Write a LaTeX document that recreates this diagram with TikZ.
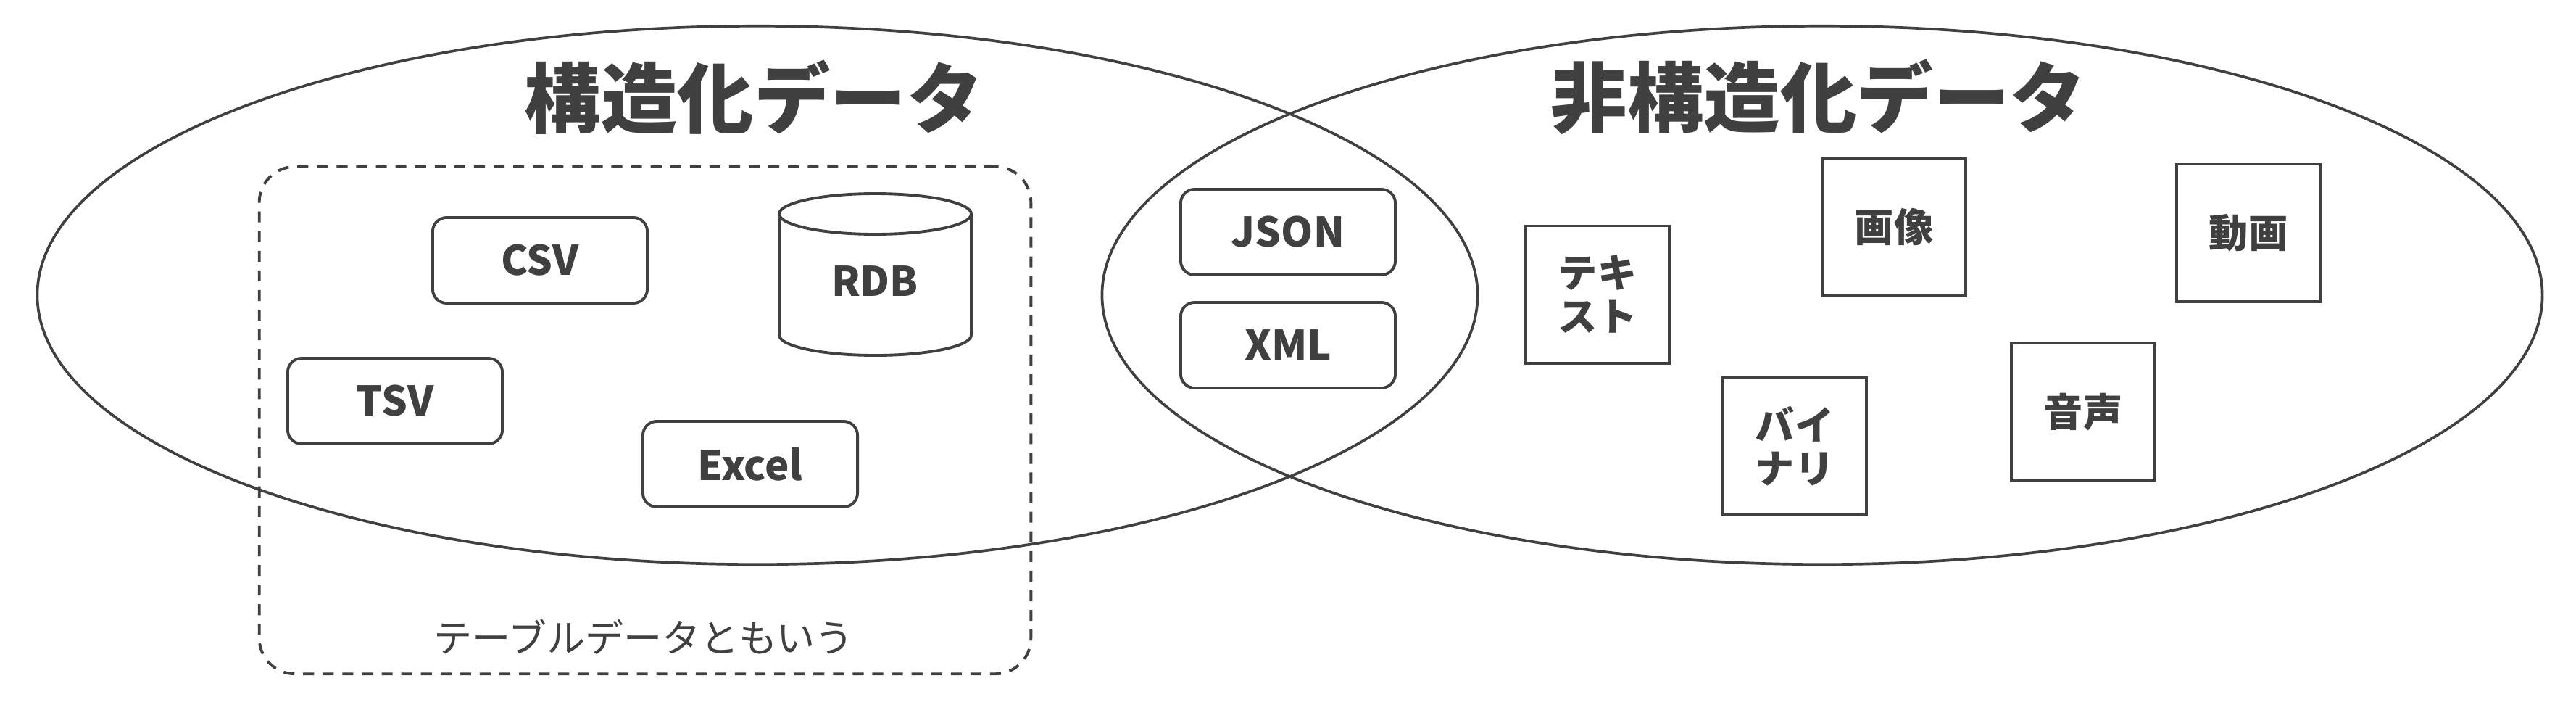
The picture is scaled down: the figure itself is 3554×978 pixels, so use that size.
\documentclass[tikz,border=0pt]{standalone}
\usepackage{fontspec}
\setmainfont{Noto Sans CJK JP}
\usetikzlibrary{shapes.geometric,positioning}
\definecolor{ink}{HTML}{404040}
\tikzset{
  setellipse/.style={draw=ink, line width=1.05pt, ellipse, inner sep=0pt, minimum width=19.86cm, minimum height=7.42cm},
  titletext/.style={text=ink, inner sep=0pt, font=\fontsize{30}{34}\selectfont\bfseries},
  filebox/.style={draw=ink, line width=1.1pt, rounded corners=5.5pt, minimum width=2.96cm, minimum height=1.18cm, text=ink, font=\fontsize{16}{17}\selectfont\bfseries},
  mediabox/.style={draw=ink, line width=1.1pt, minimum width=1.98cm, minimum height=1.89cm, align=center, text=ink, font=\fontsize{15.4}{17.1}\selectfont\bfseries},
  tablearea/.style={draw=ink, line width=1.1pt, dash pattern=on 4.3pt off 3.4pt, rounded corners=14pt, minimum width=10.64cm, minimum height=6.99cm},
  dbline/.style={draw=ink, line width=1.1pt},
}
\begin{document}
\begin{tikzpicture}[x=0.01cm, y=-0.01cm]
	\useasboundingbox (0,0) rectangle (3554,978);

	\node[setellipse] (structured) at (1045,407) {};
	\node[setellipse] (unstructured) at (2514,407) {};
	\node[titletext] (structtitle) at (1040,134) {構造化データ};
	\node[titletext] (unstructtitle) at (2509,134) {非構造化データ};

	\node[tablearea] (tabledata) at (890,579.5) {};
	\node[text=ink, font=\fontsize{15.1}{17}\selectfont] (tablenote) at (888,878) {テーブルデータともいう};

	\node[filebox] (csv) at (745,359) {CSV};
	\node[filebox] (tsv) at (545,553) {TSV};
	\node[filebox] (excel) at (1035,640) {Excel};
	\draw[dbline] (1207.5,295) ellipse [x radius=132.5, y radius=28];
	\draw[dbline] (1075,295) -- (1075,462) arc [start angle=180, end angle=0, x radius=132.5, y radius=28] -- (1340,295);
	\node[text=ink, font=\fontsize{16}{17}\selectfont\bfseries] (rdb) at (1207,388) {RDB};

	\node[filebox] (json) at (1777,320) {JSON};
	\node[filebox] (xml) at (1777,476) {XML};

	\node[mediabox] (text) at (2204,406) {テキ\\スト};
	\node[mediabox] (image) at (2613,313) {画像};
	\node[mediabox] (video) at (3102,321) {動画};
	\node[mediabox] (binary) at (2476,615) {バイ\\ナリ};
	\node[mediabox] (audio) at (2874,568) {音声};
\end{tikzpicture}
\end{document}
